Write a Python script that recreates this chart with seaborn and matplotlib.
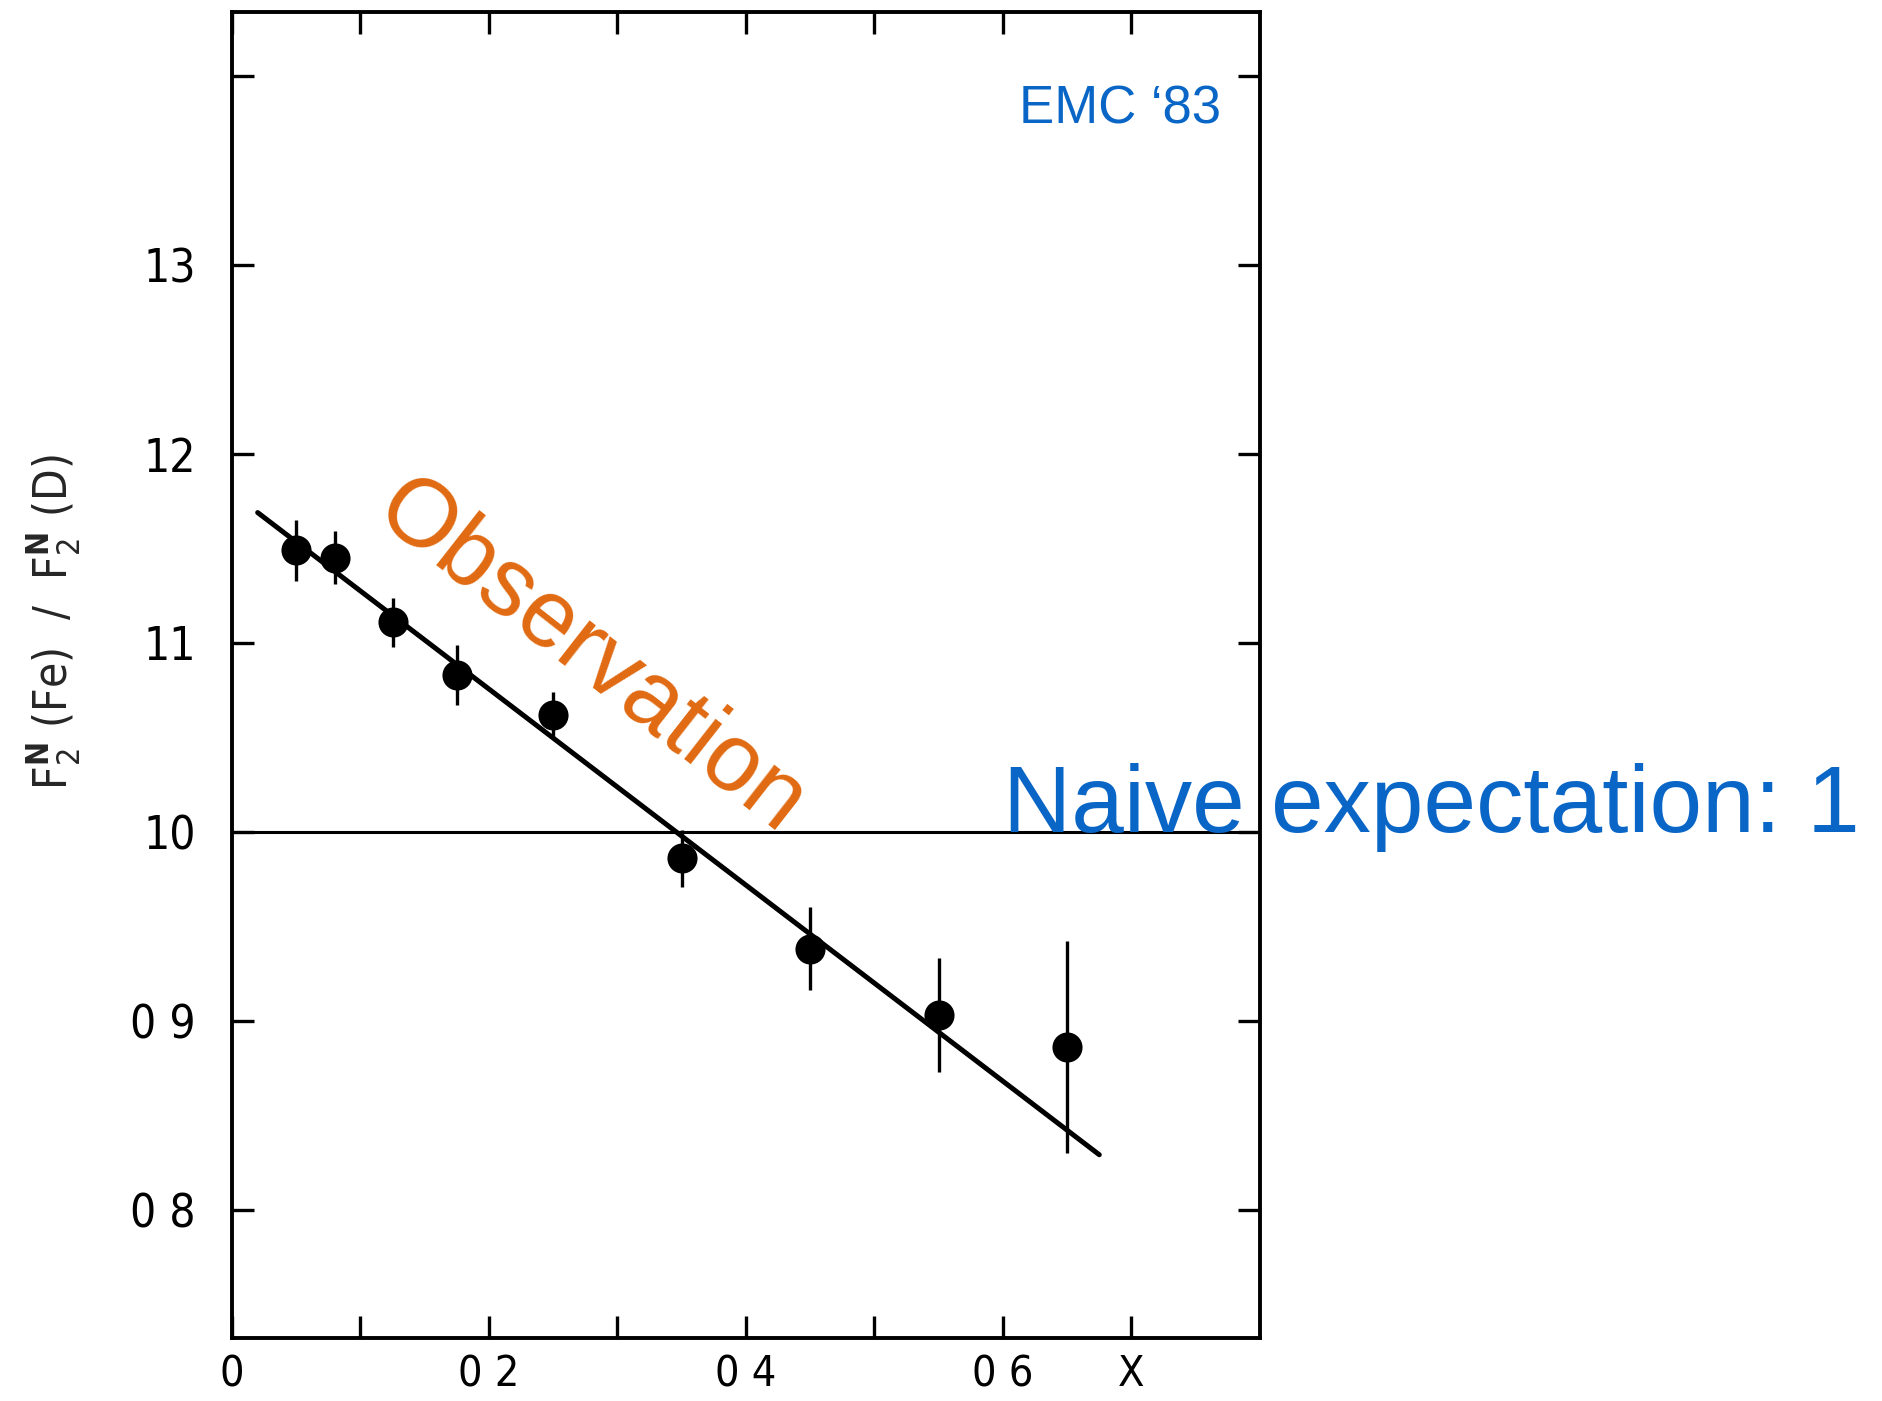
import numpy as np
import pandas as pd
import matplotlib
matplotlib.use("Agg")
import matplotlib.pyplot as plt
import seaborn as sns

# EMC effect: iron / deuterium structure-function ratio vs Bjorken x
x_vals = [0.05, 0.08, 0.125, 0.175, 0.25, 0.35, 0.45, 0.55, 0.65]
ratio = [1.149, 1.145, 1.111, 1.083, 1.062, 0.986, 0.938, 0.903, 0.886]
ratio_err = [0.016, 0.014, 0.013, 0.016, 0.012, 0.015, 0.022, 0.030, 0.056]

# straight-line fit through the data
fit_x = [0.02, 0.675]
fit_y = [1.169, 0.829]

x_ticks = [0.0, 0.1, 0.2, 0.3, 0.4, 0.5, 0.6, 0.7]
x_tick_labels = ["0", "", "0 2", "", "0 4", "", "0 6", "X"]
y_ticks = [0.8, 0.9, 1.0, 1.1, 1.2, 1.3, 1.4]
y_tick_labels = ["0 8", "0 9", "10", "11", "12", "13", ""]

df = pd.DataFrame({"x": x_vals, "ratio": ratio, "err": ratio_err})
fit_df = pd.DataFrame({"x": fit_x, "ratio": fit_y})

sns.set_theme(style="ticks")
scan_font = ["DejaVu Sans"]
label_font = ["Liberation Sans", "DejaVu Sans"]
plt.rcParams["font.family"] = scan_font
plt.rcParams["font.stretch"] = "condensed"

ORANGE = "#E06A12"
BLUE = "#0A66C6"

fig = plt.figure(figsize=(18.83, 14.01), dpi=100)
ax = fig.add_axes([0.1232, 0.0450, 0.5459, 0.9464])

ax.axhline(1.0, color="black", lw=2.2, zorder=2)
sns.lineplot(data=fit_df, x="x", y="ratio", ax=ax, color="black", lw=3.6,
             zorder=3)
ax.errorbar(df["x"], df["ratio"], yerr=df["err"], fmt="none",
            ecolor="black", elinewidth=2.4, capsize=0, zorder=4)
sns.scatterplot(data=df, x="x", y="ratio", ax=ax, color="black", s=470,
                edgecolor="black", linewidth=0, zorder=5)

ax.set_xlim(0.0, 0.8)
ax.set_ylim(0.732, 1.434)
ax.set_xticks(x_ticks)
ax.set_xticklabels(x_tick_labels)
ax.set_yticks(y_ticks)
ax.set_yticklabels(y_tick_labels)

ax.tick_params(axis="both", direction="in", length=16, width=2.4,
               top=True, right=True, labelsize=33, colors="black")
ax.tick_params(axis="y", pad=26)
ax.tick_params(axis="x", labelsize=31, pad=11)
for lab in ax.get_xticklabels() + ax.get_yticklabels():
    lab.set_family(scan_font)
    lab.set_fontstretch("condensed")
    lab.set_fontweight("normal")

for sp in ax.spines.values():
    sp.set_linewidth(2.8)
    sp.set_color("black")

ax.set_xlabel("")
ax.set_ylabel(r"F$_2^{\mathbf{N}}$ (Fe)  /  F$_2^{\mathbf{N}}$ (D)",
              fontsize=33, family=scan_font, fontweight="normal")
ax.yaxis.set_label_coords(-0.145, 0.54)

ax.text(0.279, 1.092, "Observation", color=ORANGE, fontsize=69,
        family=label_font, rotation=-38,
        rotation_mode="anchor", ha="center", va="center", zorder=6)
ax.text(0.600, 1.0, "Naive expectation: 1", color=BLUE, fontsize=68,
        family=label_font, ha="left", va="baseline",
        clip_on=False, zorder=6)
ax.text(0.770, 1.375, "EMC \u201883", color=BLUE, fontsize=38,
        family=label_font, ha="right", va="baseline",
        zorder=6)

fig.savefig("out.png", dpi=100, facecolor="white")
